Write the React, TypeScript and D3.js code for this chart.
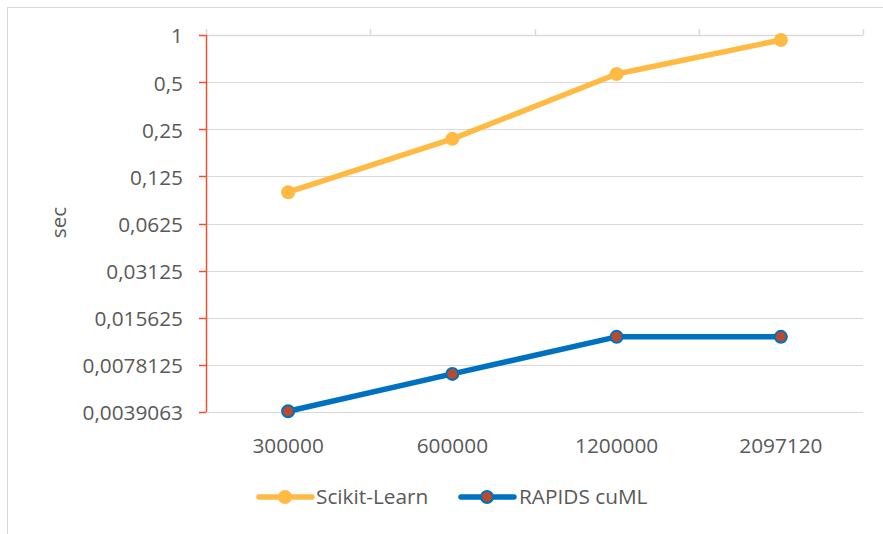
import React from "react";
import * as d3 from "d3";

const categories = ["300000", "600000", "1200000", "2097120"];
const scikitLearn = [0.099, 0.217, 0.563, 0.929];
const rapidsCuml = [0.00395, 0.00684, 0.0118, 0.0118];
const yTicks = [1, 0.5, 0.25, 0.125, 0.0625, 0.03125, 0.015625, 0.0078125, 0.00390625];
const yTickLabels = ["1", "0,5", "0,25", "0,125", "0,0625", "0,03125", "0,015625", "0,0078125", "0,0039063"];
const seriesNames = ["Scikit-Learn", "RAPIDS cuML"];

const W = 883, H = 534;
const left = 206, right = 863, top = 35, bottom = 412;
const font = "'Open Sans', sans-serif";
const textColor = "#595959";
const orange = "#FFBA44";
const blue = "#0070C0";
const markerRed = "#B94A2B";
const axisRed = "#F0502A";
const fs = 20.8;

export default function App() {
  const x = d3.scaleBand<string>().domain(categories).range([left, right]).padding(0);
  const y = d3.scaleLog().base(2).domain([0.00390625, 1]).range([bottom, top]);
  const cx = (c: string) => (x(c) as number) + x.bandwidth() / 2;
  const line = d3.line<number>().x((_, i) => cx(categories[i])).y((d) => y(d));
  const bounds = [left, ...categories.map((c) => (x(c) as number) + x.bandwidth())];

  return (
    <svg width={W} height={H} style={{ position: "absolute", left: 0, top: 0 }} fontFamily={font}>
      <rect x={0} y={0} width={W} height={H} fill="#fff" />
      <rect x={7.5} y={7.5} width={W + 10} height={H + 10} fill="none" stroke="#d9d9d9" strokeWidth={1} />
      {yTicks.slice(1).map((t) => (
        <line key={t} x1={left} x2={right} y1={Math.round(y(t)) + 0.5} y2={Math.round(y(t)) + 0.5} stroke="#d9d9d9" strokeWidth={1} />
      ))}
      {/* top category axis */}
      <line x1={left} x2={right} y1={top + 0.5} y2={top + 0.5} stroke="#d9d9d9" strokeWidth={1.5} />
      {bounds.map((b, i) => (
        <line key={i} x1={Math.round(b) + 0.5} x2={Math.round(b) + 0.5} y1={top - 6} y2={top} stroke="#d9d9d9" strokeWidth={1.5} />
      ))}
      {/* left value axis */}
      <line x1={left + 0.5} x2={left + 0.5} y1={top} y2={bottom} stroke={axisRed} strokeWidth={1.5} />
      {yTicks.map((t, i) => (
        <g key={t}>
          <line x1={left - 7} x2={left} y1={Math.round(y(t)) + 0.5} y2={Math.round(y(t)) + 0.5} stroke={axisRed} strokeWidth={1.5} />
          <text x={183} y={y(t) + 1} dy="0.36em" textAnchor="end" fontSize={fs} fill={textColor}>{yTickLabels[i]}</text>
        </g>
      ))}
      <text transform={`translate(66,${(top + bottom) / 2 - 1}) rotate(-90)`} textAnchor="middle" fontSize={fs} fill={textColor}>sec</text>
      {categories.map((c) => (
        <text key={c} x={cx(c)} y={446} dy="0.36em" textAnchor="middle" fontSize={fs} fill={textColor}>{c}</text>
      ))}
      {/* series */}
      <path d={line(scikitLearn) || ""} fill="none" stroke={orange} strokeWidth={5.5} strokeLinejoin="round" strokeLinecap="round" />
      {scikitLearn.map((v, i) => (
        <circle key={i} cx={cx(categories[i])} cy={y(v)} r={7} fill={orange} />
      ))}
      <path d={line(rapidsCuml) || ""} fill="none" stroke={blue} strokeWidth={5.5} strokeLinejoin="round" strokeLinecap="round" />
      {rapidsCuml.map((v, i) => (
        <circle key={i} cx={cx(categories[i])} cy={y(v)} r={6} fill={markerRed} stroke={blue} strokeWidth={2} />
      ))}
      {/* legend */}
      <g>
        <line x1={259} x2={312} y1={497} y2={497} stroke={orange} strokeWidth={5.5} strokeLinecap="round" />
        <circle cx={285} cy={497} r={7} fill={orange} />
        <text x={316} y={497} dy="0.36em" fontSize={fs} fill={textColor}>{seriesNames[0]}</text>
        <line x1={461} x2={514} y1={497} y2={497} stroke={blue} strokeWidth={5.5} strokeLinecap="round" />
        <circle cx={487} cy={497} r={6} fill={markerRed} stroke={blue} strokeWidth={2} />
        <text x={519} y={497} dy="0.36em" fontSize={fs} fill={textColor}>{seriesNames[1]}</text>
      </g>
    </svg>
  );
}
